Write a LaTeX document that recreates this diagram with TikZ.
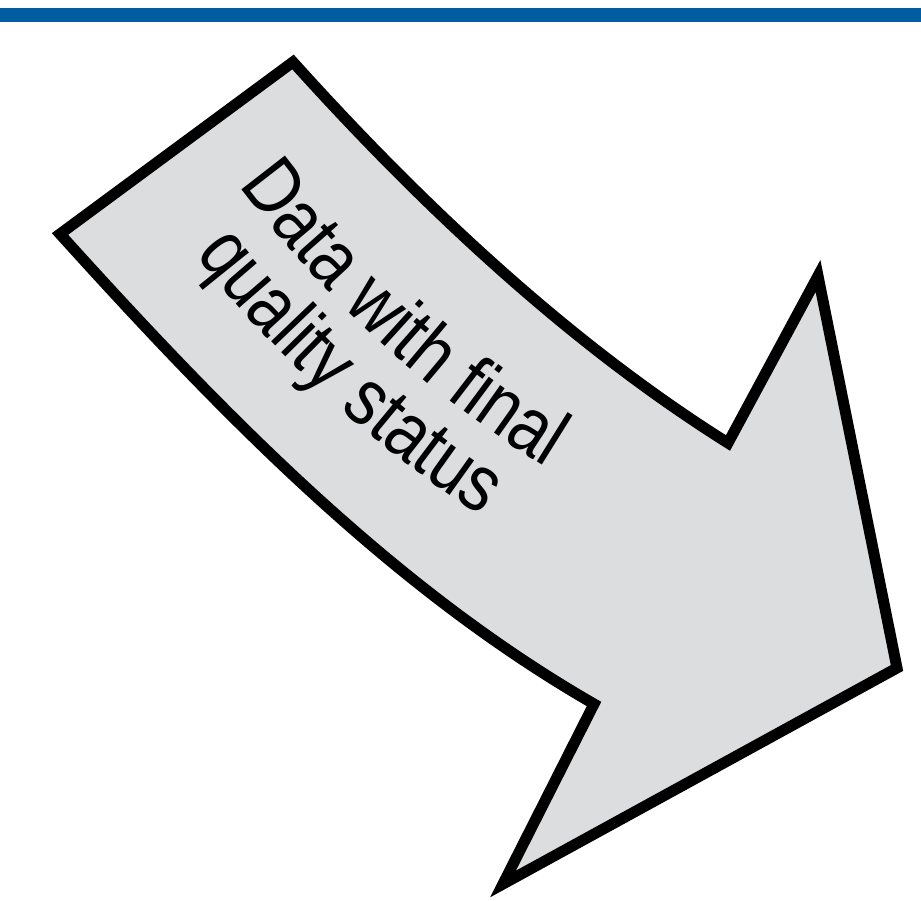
\documentclass[tikz,border=0pt]{standalone}
\usepackage{fontspec}
\setmainfont{Liberation Sans}
\usetikzlibrary{decorations.text}
\definecolor{barblue}{RGB}{0,94,160}
\definecolor{bodygray}{RGB}{220,221,223}
\newcommand\shaftfont{\fontsize{38}{44}\selectfont}
\newcommand\tallchar[1]{\scalebox{1}[1.2]{#1}}

\begin{document}
\begin{tikzpicture}[x=0.02cm,y=0.02cm,
  bar/.style={fill=barblue,draw=none},
  arrowbody/.style={draw=black,fill=bodygray,line width=0.22cm,line join=miter,miter limit=10},
  curved/.style={decorate,decoration={text effects along path,text={#1},text align=center,
    text effects/.cd,text along path,character command=\tallchar,
    characters={font=\shaftfont,inner sep=0pt}}}]
\useasboundingbox (0,0) rectangle (921,901);
% blue rule along the top
\fill[bar] (0,879) rectangle (921,893);
% the bent arrow
\coordinate (top) at (293,839);
\coordinate (left) at (60,667);
\coordinate (notchT) at (728,458);
\coordinate (tipT) at (818,625);
\coordinate (tipR) at (897,233);
\coordinate (tipB) at (503,17);
\coordinate (notchB) at (594,197);
\draw[arrowbody] (top) .. controls (420,698) and (567,559) .. (notchT) -- (tipT)
  -- (tipR) -- (tipB) -- (notchB) .. controls (389,315) and (219,491) .. (left) -- cycle;
% label bent along the shaft (centre of the bend far up right)
\coordinate (bend) at (1122,1371);
\path[curved=Data with final] ([shift={(-157.5:1100)}]bend)
  arc[start angle=-157.5,end angle=-107.5,radius=1100];
\path[curved=quality status] ([shift={(-157.5:1176)}]bend)
  arc[start angle=-157.5,end angle=-107.5,radius=1176];
\end{tikzpicture}
\end{document}
